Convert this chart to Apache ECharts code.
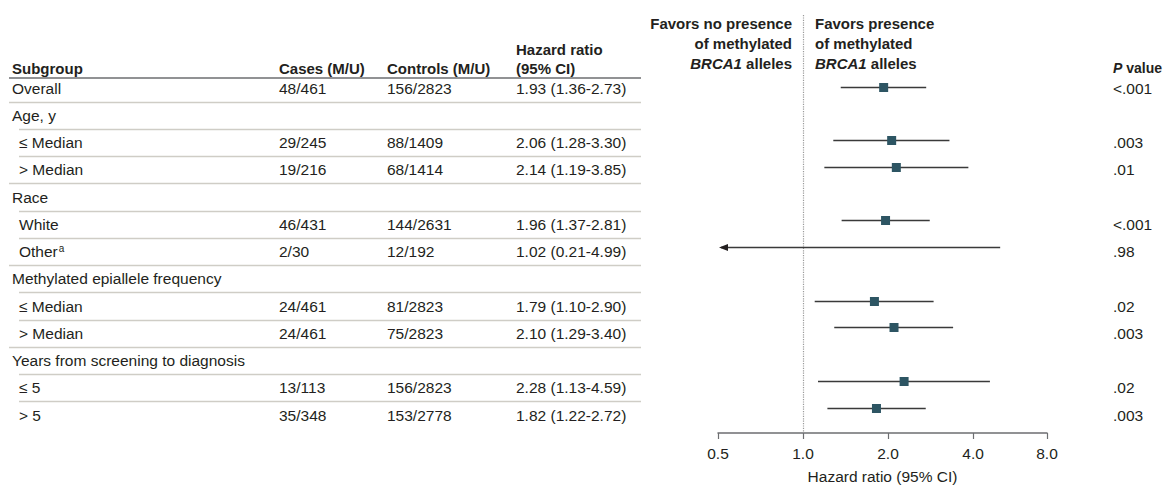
<!DOCTYPE html>
<html><head><meta charset="utf-8">
<script src="https://cdn.jsdelivr.net/npm/echarts@6/dist/echarts.min.js"></script>
<style>html,body{margin:0;padding:0;background:#fff}#c{width:1164px;height:489px}</style>
</head><body><div id="c"></div>
<script>
// ---- data ----
const subgroups = ['Overall', 'Age, y', '≤ Median', '> Median', 'Race', 'White', 'Other{sup|a}',
  'Methylated epiallele frequency', '≤ Median', '> Median', 'Years from screening to diagnosis', '≤ 5', '> 5'];
const indentLevel = [0, 0, 1, 1, 0, 1, 1, 0, 1, 1, 0, 1, 1];
const cases = ['48/461', '', '29/245', '19/216', '', '46/431', '2/30', '', '24/461', '24/461', '', '13/113', '35/348'];
const controls = ['156/2823', '', '88/1409', '68/1414', '', '144/2631', '12/192', '', '81/2823', '75/2823', '', '156/2823', '153/2778'];
const hr = [1.93, null, 2.06, 2.14, null, 1.96, 1.02, null, 1.79, 2.10, null, 2.28, 1.82];
const ciLow = [1.36, null, 1.28, 1.19, null, 1.37, 0.21, null, 1.10, 1.29, null, 1.13, 1.22];
const ciHigh = [2.73, null, 3.30, 3.85, null, 2.81, 4.99, null, 2.90, 3.40, null, 4.59, 2.72];
const pValues = ['<.001', '', '.003', '.01', '', '<.001', '.98', '', '.02', '.003', '', '.02', '.003'];
const axisTicks = [0.5, 1.0, 2.0, 4.0, 8.0];
const refValue = 1;

// ---- layout / style ----
const FONT = 'Liberation Sans';
const FS = 15.5;
const FSB = 15;
const TXT = '#231f20';
const AXIS_MIN = 0.5, AXIS_MAX = 7.31;
const Y_MIN = -2.68, Y_MAX = 12.95;
const col = { sub: 12, subIndent: 19, cases: 279, controls: 387, hr: 516, right: 641, p: 1113 };
const n = subgroups.length;

const chart = echarts.init(document.getElementById('c'), null, { renderer: 'svg' });

const tableData = subgroups.map((s, i) => [i]);
const forestData = [];
hr.forEach((v, i) => { if (v != null) forestData.push([i, v, ciLow[i], ciHigh[i]]); });

function txt(x, y, text, extra) {
  return {
    type: 'text',
    style: Object.assign({
      text: text, x: x, y: y, fill: TXT, fontFamily: FONT, fontSize: FS,
      textAlign: 'left', textVerticalAlign: 'middle',
      rich: { sup: { fontSize: 10, fontFamily: FONT, fill: TXT, padding: [0, 0, 7, 1] } }
    }, extra || {})
  };
}
const italicBold = (fs) => ({ i: { fontStyle: 'italic', fontWeight: 'bold', fontFamily: FONT, fontSize: fs, fill: TXT } });
const bold = (x, y, t, extra) => txt(x, y, t, Object.assign({ fontWeight: 'bold', fontSize: FSB, rich: italicBold(FSB) }, extra || {}));

const option = {
  animation: false,
  grid: [
    { left: 718, width: 329, top: 15, height: 426 },
    { left: 0, width: 700, top: 15, height: 426 }
  ],
  xAxis: [
    {
      type: 'log', logBase: 2, min: AXIS_MIN, max: AXIS_MAX, interval: 1, gridIndex: 0,
      axisLine: { onZero: false, lineStyle: { color: '#6d6e71', width: 1.5 } },
      axisTick: { show: true, length: 6, lineStyle: { color: '#6d6e71', width: 1.2 } },
      axisLabel: {
        color: TXT, fontFamily: FONT, fontSize: FS, margin: 12,
        showMinLabel: true, showMaxLabel: true,
        formatter: v => {
          let best = axisTicks[0];
          axisTicks.forEach(t => { if (Math.abs(Math.log2(t) - Math.log2(v)) < Math.abs(Math.log2(best) - Math.log2(v))) best = t; });
          return best.toFixed(1);
        }
      },
      splitLine: { show: false },
      name: 'Hazard ratio (95% CI)', nameLocation: 'middle', nameGap: 35,
      nameTextStyle: { color: TXT, fontFamily: FONT, fontSize: FS }
    },
    { type: 'value', min: 0, max: 700, gridIndex: 1, show: false }
  ],
  yAxis: [
    { type: 'value', min: Y_MIN, max: Y_MAX, inverse: true, gridIndex: 0, show: false },
    { type: 'value', min: Y_MIN, max: Y_MAX, inverse: true, gridIndex: 1, show: false }
  ],
  graphic: [
    // table header
    bold(col.sub, 68, 'Subgroup'),
    bold(col.cases, 68, 'Cases (M/U)'),
    bold(col.controls, 68, 'Controls (M/U)'),
    bold(col.hr, 49, 'Hazard ratio'),
    bold(col.hr, 68, '(95% CI)'),
    { type: 'line', shape: { x1: 9, y1: 78, x2: col.right, y2: 78 }, style: { stroke: '#6d6e71', lineWidth: 1.5 } },
    // favors labels
    bold(792, 23, 'Favors no presence', { textAlign: 'right' }),
    bold(792, 43, 'of methylated', { textAlign: 'right' }),
    bold(792, 63, '{i|BRCA1} alleles', { textAlign: 'right' }),
    bold(815, 23, 'Favors presence'),
    bold(815, 43, 'of methylated'),
    bold(815, 63, '{i|BRCA1} alleles'),
    bold(col.p, 68, '{i|P} value', { fontSize: 14, rich: italicBold(14) })
  ],
  series: [
    {
      type: 'custom', xAxisIndex: 1, yAxisIndex: 1, data: tableData,
      encode: { y: 0 }, clip: false,
      renderItem: (params, api) => {
        const i = api.value(0);
        const y = api.coord([0, i])[1];
        const children = [];
        const x0 = indentLevel[i] ? col.subIndent : col.sub;
        children.push(txt(x0, y, subgroups[i]));
        if (cases[i]) children.push(txt(col.cases, y, cases[i]));
        if (controls[i]) children.push(txt(col.controls, y, controls[i]));
        if (hr[i] != null) children.push(txt(col.hr, y, hr[i].toFixed(2) + ' (' + ciLow[i].toFixed(2) + '-' + ciHigh[i].toFixed(2) + ')'));
        if (pValues[i]) children.push(txt(col.p, y, pValues[i]));
        if (i < n - 1) {
          const ly = Math.round(api.coord([0, i + 0.5])[1]) + 0.5;
          const lx = indentLevel[i + 1] ? col.subIndent : 9;
          children.push({ type: 'line', shape: { x1: lx, y1: ly, x2: col.right, y2: ly },
            style: { stroke: '#cfcdc6', lineWidth: 1.5 } });
        }
        return { type: 'group', children: children };
      }
    },
    {
      type: 'custom', xAxisIndex: 0, yAxisIndex: 0, data: forestData,
      encode: { x: [1, 2, 3], y: 0 }, clip: false, z: 5,
      renderItem: (params, api) => {
        const i = api.value(0), h = api.value(1), lo = api.value(2), hi = api.value(3);
        const truncated = lo < AXIS_MIN;
        const pL = api.coord([truncated ? AXIS_MIN : lo, i]);
        const pU = api.coord([hi, i]);
        const pH = api.coord([h, i]);
        const y = Math.round(pH[1]) + 0.5;
        const children = [{ type: 'line', shape: { x1: pL[0] + (truncated ? 3 : 0), y1: y, x2: pU[0], y2: y },
          style: { stroke: '#3a3a3a', lineWidth: 1.3 } }];
        if (truncated) {
          const tx = pL[0] + 1;
          children.push({ type: 'polygon', shape: { points: [[tx, y], [tx + 9, y - 3.5], [tx + 9, y + 3.5]] },
            style: { fill: '#231f20' } });
        } else {
          children.push({ type: 'rect', shape: { x: pH[0] - 4.5, y: y - 4.5, width: 9, height: 9 },
            style: { fill: '#2d5563' } });
        }
        return { type: 'group', children: children };
      },
      markLine: {
        silent: true, symbol: 'none', label: { show: false },
        lineStyle: { type: 'dotted', color: '#9a9a9a', width: 1.2 },
        data: [{ xAxis: refValue }]
      }
    }
  ]
};
chart.setOption(option);
</script>
</body></html>
